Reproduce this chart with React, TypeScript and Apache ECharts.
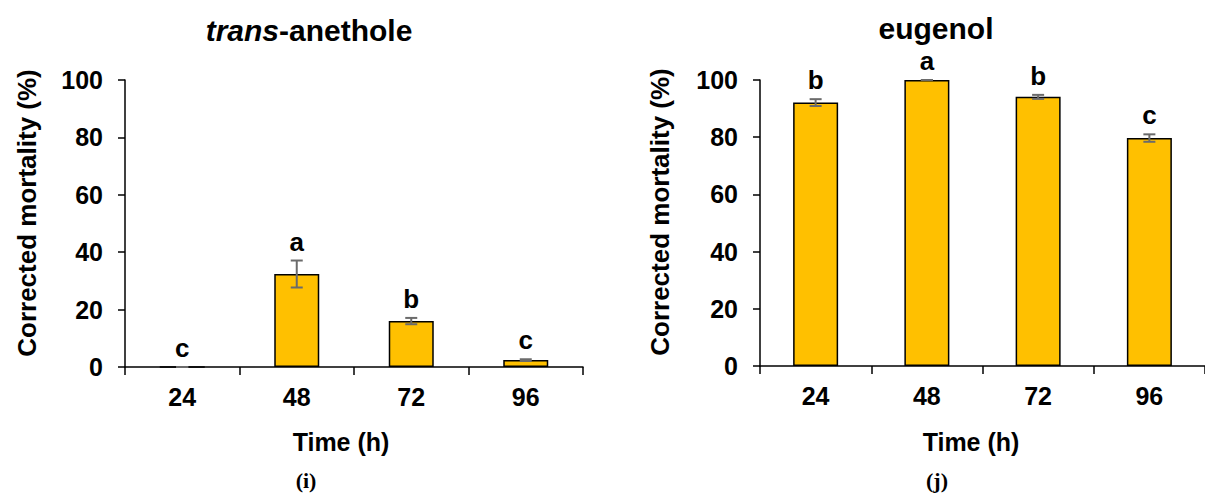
import React, { useEffect, useRef } from "react";
import * as echarts from "echarts";

const categories = ["24", "48", "72", "96"];
const anetholeMean = [0, 32.4, 16.0, 2.4];
const anetholeErr = [0, 4.7, 1.1, 0.3];
const anetholeLetters = ["c", "a", "b", "c"];
const eugenolMean = [92.1, 100, 94.1, 79.7];
const eugenolErr = [1.2, 0, 0.7, 1.3];
const eugenolLetters = ["b", "a", "b", "c"];
const yMin = 0;
const yMax = 100;
const yInterval = 20;

const FONT = "'Liberation Sans', Arial, sans-serif";
const SERIF = "'Liberation Serif', 'DejaVu Serif', serif";
const BAR_COLOR = "#FFC000";
const ERR_COLOR = "#6b6b6b";

function errorSeries(idx: number, mean: number[], err: number[]) {
  return {
    type: "custom",
    xAxisIndex: idx,
    yAxisIndex: idx,
    z: 5,
    data: mean.map((m, i) => [i, m, err[i]]),
    renderItem: (params: any, api: any) => {
      const i = api.value(0);
      const m = api.value(1);
      const e = api.value(2);
      const top = api.coord([i, m + e]);
      const bot = api.coord([i, m - e]);
      const x = top[0];
      const cap = 6;
      const style = { stroke: ERR_COLOR, lineWidth: 2 };
      return {
        type: "group",
        children: [
          { type: "line", shape: { x1: x, y1: top[1], x2: x, y2: bot[1] }, style },
          { type: "line", shape: { x1: x - cap, y1: top[1], x2: x + cap, y2: top[1] }, style },
          { type: "line", shape: { x1: x - cap, y1: bot[1], x2: x + cap, y2: bot[1] }, style },
        ],
      };
    },
  };
}

function letterSeries(idx: number, mean: number[], err: number[], letters: string[]) {
  return {
    type: "custom",
    xAxisIndex: idx,
    yAxisIndex: idx,
    z: 6,
    data: mean.map((m, i) => [i, m + err[i]]),
    renderItem: (params: any, api: any) => {
      const i = api.value(0);
      const p = api.coord([i, api.value(1)]);
      return {
        type: "text",
        x: p[0],
        y: p[1] - 7,
        style: {
          text: letters[params.dataIndex],
          fontFamily: FONT,
          fontWeight: "bold",
          fontSize: 26,
          lineHeight: 24,
          fill: "#000",
          textAlign: "center",
          textVerticalAlign: "bottom",
        },
      };
    },
  };
}

function barSeries(idx: number, mean: number[]) {
  return {
    type: "bar",
    xAxisIndex: idx,
    yAxisIndex: idx,
    data: mean,
    barWidth: 45,
    itemStyle: { color: BAR_COLOR, borderColor: "#000", borderWidth: 1.5 },
  };
}

function xAxis(idx: number) {
  return {
    type: "category",
    gridIndex: idx,
    data: categories,
    axisLine: { lineStyle: { color: "#000", width: 1.5 } },
    axisTick: { show: true, length: 8, lineStyle: { color: "#000", width: 1.5 } },
    axisLabel: {
      color: "#000",
      fontFamily: FONT,
      fontWeight: "bold",
      fontSize: 25,
      margin: 17,
    },
  };
}

function yAxis(idx: number) {
  return {
    type: "value",
    gridIndex: idx,
    min: yMin,
    max: yMax,
    interval: yInterval,
    splitLine: { show: false },
    axisLine: { show: true, lineStyle: { color: "#000", width: 1.5 } },
    axisTick: { show: true, length: 7, lineStyle: { color: "#000", width: 1.5 } },
    axisLabel: {
      color: "#000",
      fontFamily: FONT,
      fontWeight: "bold",
      fontSize: 25,
      margin: 22,
    },
  };
}

function textEl(text: string, x: number, y: number, size: number, family = FONT, rotation = 0) {
  return {
    type: "text",
    x,
    y,
    rotation,
    style: {
      text,
      fontFamily: family,
      fontWeight: "bold",
      fontSize: size,
      fill: "#000",
      textAlign: "center",
      textVerticalAlign: "middle",
    },
  };
}

export default function App() {
  const ref = useRef<HTMLDivElement>(null);
  useEffect(() => {
    if (!ref.current) return;
    const chart = echarts.init(ref.current, null, { renderer: "svg" });
    chart.setOption({
      animation: false,
      backgroundColor: "#fff",
      title: [
        {
          text: "{i|trans}-anethole",
          left: 309,
          top: 14,
          padding: 0,
          textAlign: "center",
          textStyle: {
            fontFamily: FONT,
            fontWeight: "bold",
            fontSize: 30,
            lineHeight: 32,
            color: "#000",
            rich: {
              i: { fontFamily: FONT, fontWeight: "bold", fontStyle: "italic", fontSize: 30, lineHeight: 32, color: "#000" },
            },
          },
        },
        {
          text: "eugenol",
          left: 936,
          top: 13,
          padding: 0,
          textAlign: "center",
          textStyle: { fontFamily: FONT, fontWeight: "bold", fontSize: 30, lineHeight: 30, color: "#000" },
        },
      ],
      grid: [
        { left: 125, top: 80, width: 458, height: 287, containLabel: false },
        { left: 760, top: 80, width: 454, height: 286, containLabel: false },
      ],
      xAxis: [xAxis(0), xAxis(1)],
      yAxis: [yAxis(0), yAxis(1)],
      series: [
        barSeries(0, anetholeMean),
        errorSeries(0, anetholeMean, anetholeErr),
        letterSeries(0, anetholeMean, anetholeErr, anetholeLetters),
        barSeries(1, eugenolMean),
        errorSeries(1, eugenolMean, eugenolErr),
        letterSeries(1, eugenolMean, eugenolErr, eugenolLetters),
      ],
      graphic: [
        textEl("Corrected mortality (%)", 27, 213, 26, FONT, Math.PI / 2),
        textEl("Corrected mortality (%)", 660, 212, 26, FONT, Math.PI / 2),
        textEl("Time (h)", 341, 442, 25),
        textEl("Time (h)", 971, 442, 25),
        textEl("(i)", 306, 480, 22, SERIF),
        textEl("(j)", 937, 480, 22, SERIF),
      ],
    });
    return () => chart.dispose();
  }, []);
  return (
    <div
      ref={ref}
      style={{ position: "absolute", left: 0, top: 0, width: 1205, height: 494 }}
    />
  );
}
